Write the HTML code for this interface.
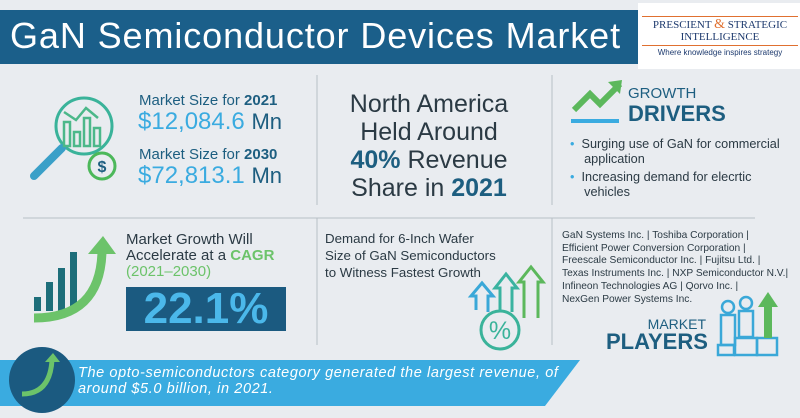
<!DOCTYPE html>
<html><head><meta charset="utf-8">
<style>
*{margin:0;padding:0;box-sizing:border-box}
body{width:800px;height:418px;overflow:hidden;background:#e9ecf0;font-family:"Liberation Sans",sans-serif;position:relative}
.a{position:absolute;white-space:nowrap}
.dk{color:#1d5e80}
.tx{color:#2b3a44}
</style></head><body>
<svg class="a" style="left:0;top:0" width="800" height="418">
  <polygon points="0,10 640,10 655,64 0,64" fill="#1b5f8a"/>
  <rect x="638" y="3" width="162" height="66" fill="#ffffff"/>
  <line x1="317" y1="75" x2="317" y2="205" stroke="#b8bfc6" stroke-width="1"/>
  <line x1="552" y1="75" x2="552" y2="205" stroke="#b8bfc6" stroke-width="1"/>
  <line x1="23" y1="218" x2="755" y2="218" stroke="#b8bfc6" stroke-width="1"/>
  <line x1="317" y1="218" x2="317" y2="345" stroke="#b8bfc6" stroke-width="1"/>
  <line x1="552" y1="218" x2="552" y2="345" stroke="#b8bfc6" stroke-width="1"/>
  <polygon points="0,360 580,360 545,406 0,406" fill="#3aabe0"/>
  <circle cx="42" cy="380" r="33" fill="#1b5a80"/>
  <path d="M22,394 Q50,394 52,360" stroke="#6cc36a" stroke-width="5" fill="none"/>
  <polygon points="45,362 53,353 60,362" fill="#6cc36a"/>
  <circle cx="84" cy="126" r="28" fill="none" stroke="#3ab39a" stroke-width="3"/>
  <line x1="62" y1="148" x2="34" y2="176" stroke="#3aa0c8" stroke-width="8" stroke-linecap="round"/>
  <g stroke="#4cb88a" stroke-width="2.5" fill="none">
    <rect x="64" y="122" width="6" height="24"/><rect x="74" y="132" width="6" height="14"/>
    <rect x="84" y="118" width="6" height="28"/><rect x="94" y="128" width="6" height="18"/>
    <polyline points="64,112 76,120 86,108 98,118"/>
  </g>
  <circle cx="102" cy="166" r="13" fill="#e9ecf0" stroke="#4cb85a" stroke-width="3"/>
  <text x="102" y="172" font-size="16" font-weight="bold" fill="#1d5e80" text-anchor="middle" font-family="Liberation Sans">$</text>
  <polyline points="574,110 590,94 600,104 620,84" stroke="#5cb85c" stroke-width="6" fill="none"/>
  <polygon points="608,82 622,80 620,94" fill="#5cb85c"/>
  <rect x="571" y="119" width="48" height="4" fill="#3aabe0"/>
  <g fill="#1d6e7a"><rect x="34" y="297" width="7" height="14"/><rect x="46" y="282" width="7" height="29"/><rect x="58" y="268" width="7" height="43"/><rect x="70" y="252" width="7" height="59"/></g>
  <path d="M34,318 Q100,318 102,252" stroke="#6cc36a" stroke-width="9" fill="none"/>
  <polygon points="88,254 103,236 116,254" fill="#6cc36a"/>
  <circle cx="500" cy="330" r="19" fill="none" stroke="#3ab39a" stroke-width="3"/>
  <text x="500" y="339" font-size="25" fill="#3ab39a" text-anchor="middle" font-family="Liberation Sans">%</text>
  <g fill="none" stroke-width="3">
    <path d="M476,310 L476,296 L471,296 L482,283 L493,296 L488,296 L488,312" stroke="#3aa8d8"/>
    <path d="M500,311 L500,288 L495,288 L506,274 L517,288 L512,288 L512,312" stroke="#3ab3a0"/>
    <path d="M524,318 L524,282 L519,282 L531,267 L543,282 L538,282 L538,318" stroke="#5cb85c"/>
  </g>
  <g fill="none" stroke="#3aa8d8" stroke-width="2.5">
    <circle cx="728" cy="307" r="6"/><rect x="721" y="315" width="14" height="30"/>
    <circle cx="746" cy="303" r="6"/><rect x="739" y="311" width="14" height="26"/>
    <rect x="718" y="345" width="16" height="10"/><rect x="735" y="338" width="22" height="17"/><rect x="757" y="338" width="20" height="17"/>
  </g>
  <rect x="764" y="305" width="8" height="33" fill="#5cb85c"/>
  <polygon points="758,307 768,292 778,307" fill="#5cb85c"/>
</svg>

<div class="a" style="left:10px;top:15px;font-size:36px;color:#fff;letter-spacing:0.9px">GaN Semiconductor Devices Market</div>

<div class="a" style="left:642px;top:16px;width:156px;text-align:center;font-family:'Liberation Serif',serif;color:#1d3a6e;font-size:11px;line-height:12px">
  <div style="border-top:1px solid #e07030;padding-top:2px">PRESCIENT <span style="color:#e07030;font-size:14px">&amp;</span> STRATEGIC</div>
  <div style="border-bottom:1px solid #e07030;padding-bottom:2px">INTELLIGENCE</div>
  <div style="font-family:'Liberation Sans',sans-serif;font-size:8px;margin-top:1px">Where knowledge inspires strategy</div>
</div>

<div class="a dk" style="left:139px;top:92px;font-size:15px">Market Size for <b>2021</b></div>
<div class="a" style="left:138px;top:108px;font-size:24px;color:#3aabe0">$12,084.6 <span style="color:#1d5e80;font-size:22px">Mn</span></div>
<div class="a dk" style="left:139px;top:146px;font-size:15px">Market Size for <b>2030</b></div>
<div class="a" style="left:138px;top:162px;font-size:24px;color:#3aabe0">$72,813.1 <span style="color:#1d5e80;font-size:22px">Mn</span></div>

<div class="a tx" style="left:312px;top:90px;width:234px;text-align:center;font-size:25px;line-height:28px">North America<br>Held Around<br><b class="dk">40%</b> Revenue<br>Share in <b class="dk">2021</b></div>

<div class="a" style="left:628px;top:86px;font-size:15px;color:#1d5e80;line-height:16px">GROWTH<br><b style="font-size:22px;line-height:24px">DRIVERS</b></div>
<div class="a tx" style="left:570px;top:137px;font-size:12.7px;line-height:15px"><span style="color:#3aabe0">•</span>&nbsp; Surging use of GaN for commercial<br>&nbsp;&nbsp;&nbsp; application</div>
<div class="a tx" style="left:570px;top:170px;font-size:12.7px;line-height:15px"><span style="color:#3aabe0">•</span>&nbsp; Increasing demand for elecrtic<br>&nbsp;&nbsp;&nbsp; vehicles</div>

<div class="a tx" style="left:126px;top:232px;font-size:15px;line-height:16px">Market Growth Will<br>Accelerate at a <b style="color:#6cc36a">CAGR</b><br><span style="color:#6cc36a">(2021–2030)</span></div>
<div class="a" style="left:126px;top:287px;width:160px;height:44px;background:#1b5a80;color:#4bb8ea;font-size:44px;font-weight:bold;text-align:center;line-height:44px">22.1%</div>

<div class="a tx" style="left:325px;top:230px;font-size:13.3px;line-height:17px">Demand for 6-Inch Wafer<br>Size of GaN Semiconductors<br>to Witness Fastest Growth</div>

<div class="a tx" style="left:562px;top:230px;font-size:10.2px;line-height:12.7px">GaN Systems Inc. | Toshiba Corporation |<br>Efficient Power Conversion Corporation |<br>Freescale Semiconductor Inc. | Fujitsu Ltd. |<br>Texas Instruments Inc. | NXP Semiconductor N.V.|<br>Infineon Technologies AG | Qorvo Inc. |<br>NexGen Power Systems Inc.</div>
<div class="a" style="left:606px;top:317px;width:100px;text-align:right;color:#1d5e80;font-size:14px;line-height:14px">MARKET<br><b style="font-size:22px;line-height:22px">PLAYERS</b></div>

<div class="a" style="left:78px;top:365px;font-size:14.5px;line-height:16px;color:#fff;font-style:italic;letter-spacing:0.6px">The opto-semiconductors category generated the largest revenue, of<br>around $5.0 billion, in 2021.</div>
</body></html>
